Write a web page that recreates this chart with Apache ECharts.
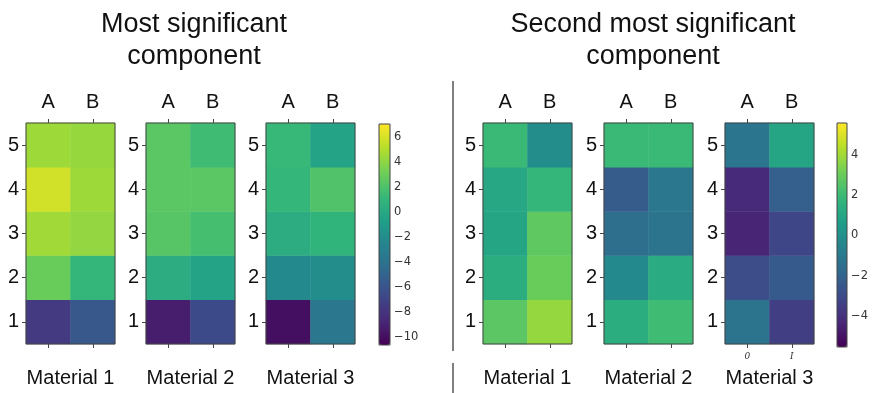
<!DOCTYPE html>
<html><head><meta charset="utf-8">
<script src="https://cdn.jsdelivr.net/npm/echarts@6/dist/echarts.min.js"></script>
<style>html,body{margin:0;padding:0;background:#fff}#c{width:875px;height:393px}</style>
</head><body><div id="c"></div>
<script>
// ---------- data ----------
const columns = ['A', 'B'];
const rows = ['1', '2', '3', '4', '5'];          // bottom to top
const materials = ['Material 1', 'Material 2', 'Material 3'];
const componentTitles = ['Most significant\ncomponent', 'Second most significant\ncomponent'];
// values [A, B] for rows 1..5
const comp1Mat1 = [[-7.6, -5.8], [2.9, 1.0], [4.5, 4.1], [5.8, 4.4], [4.4, 4.2]];
const comp1Mat2 = [[-9.2, -6.6], [0.3, -0.4], [2.3, 1.7], [2.4, 2.4], [2.4, 1.5]];
const comp1Mat3 = [[-9.9, -3.6], [-2.3, -2.0], [0.3, 0.8], [1.0, 2.1], [1.2, -0.4]];
const comp2Mat1 = [[2.7, 3.8], [1.4, 3.0], [1.0, 2.8], [1.1, 1.8], [2.0, -0.1]];
const comp2Mat2 = [[1.4, 2.1], [-0.3, 1.3], [-1.5, -1.3], [-2.3, -1.1], [2.0, 2.0]];
const comp2Mat3 = [[-1.3, -3.5], [-2.9, -2.4], [-4.4, -3.2], [-4.2, -2.2], [-1.2, 1.0]];
const comp1Range = [-10.6, 7.0];
const comp2Range = [-5.55, 5.6];
const comp1Ticks = [-10, -8, -6, -4, -2, 0, 2, 4, 6];
const comp2Ticks = [-4, -2, 0, 2, 4];
const mat3Comp2BottomTicks = ['0', 'I'];

// ---------- style ----------
const viridis = ['#440154', '#482878', '#3e4989', '#31688e', '#26828e', '#1f9e89', '#35b779', '#6ece58', '#b5de2b', '#fde725'];
const FONT = 'Liberation Sans, Arial, sans-serif';
const panels = [
  { left: 26, data: comp1Mat1, comp: 0, mat: 0 },
  { left: 146, data: comp1Mat2, comp: 0, mat: 1 },
  { left: 266, data: comp1Mat3, comp: 0, mat: 2 },
  { left: 483, data: comp2Mat1, comp: 1, mat: 0 },
  { left: 604, data: comp2Mat2, comp: 1, mat: 1 },
  { left: 725, data: comp2Mat3, comp: 1, mat: 2 }
];
const PT = 123, PW = 89, PH = 221;
const bars = [
  { left: 379, top: 124, width: 11, height: 221, range: comp1Range, ticks: comp1Ticks },
  { left: 837, top: 123, width: 10, height: 224, range: comp2Range, ticks: comp2Ticks }
];

const grid = [], xAxis = [], yAxis = [], series = [];
panels.forEach((p, i) => {
  grid.push({ left: p.left, top: PT, width: PW, height: PH, show: true, z: 5,
    backgroundColor: 'transparent', borderColor: '#444', borderWidth: 1 });
  xAxis.push({ type: 'category', data: columns, gridIndex: i, position: 'top',
    axisLine: { show: false },
    axisTick: { show: true, alignWithLabel: true, length: 4, lineStyle: { color: '#444' } },
    axisLabel: { fontSize: 20, color: '#111', fontFamily: FONT, margin: 11 },
    splitLine: { show: false } });
  const isOdd = (i === 5);
  xAxis.push({ type: 'category', data: isOdd ? mat3Comp2BottomTicks : columns, gridIndex: i, position: 'bottom',
    axisLine: { show: false },
    axisTick: { show: true, alignWithLabel: true, length: 4, lineStyle: { color: '#444' } },
    axisLabel: { show: isOdd, fontSize: 9, color: '#333', fontFamily: 'DejaVu Serif', fontStyle: 'italic', margin: 8 },
    name: materials[p.mat], nameLocation: 'middle', nameGap: 24,
    nameTextStyle: { fontSize: 20, color: '#111', fontFamily: FONT },
    splitLine: { show: false } });
  yAxis.push({ type: 'category', data: rows, gridIndex: i,
    axisLine: { show: false },
    axisTick: { show: true, alignWithLabel: true, length: 4, lineStyle: { color: '#444' } },
    axisLabel: { fontSize: 20, color: '#111', fontFamily: FONT, margin: 7 },
    splitLine: { show: false } });
  const d = [];
  p.data.forEach((r, ri) => r.forEach((v, ci) => d.push([ci, ri, v])));
  series.push({ type: 'heatmap', xAxisIndex: 2 * i, yAxisIndex: i, data: d,
    itemStyle: { borderWidth: 0 }, emphasis: { disabled: true }, silent: true });
});
bars.forEach((b, k) => {
  const gi = 6 + k;
  grid.push({ left: b.left, top: b.top, width: b.width, height: b.height, show: true, z: 10,
    backgroundColor: 'transparent', borderColor: '#444', borderWidth: 1 });
  xAxis.push({ type: 'value', gridIndex: gi, show: false });
  yAxis.push({ type: 'value', gridIndex: gi, position: 'right', min: b.range[0], max: b.range[1],
    axisLine: { show: false }, splitLine: { show: false },
    axisTick: { show: true, length: 3, customValues: b.ticks, lineStyle: { color: '#444' } },
    axisLabel: { show: true, customValues: b.ticks, fontSize: 11.5, color: '#333', fontFamily: 'DejaVu Sans', margin: 4,
      formatter: v => String(v).replace('-', '\u2212') } });
});

const visualMap = bars.map((b, k) => ({
  type: 'continuous', min: b.range[0], max: b.range[1], seriesIndex: k === 0 ? [0, 1, 2] : [3, 4, 5],
  dimension: 2, left: b.left, top: b.top, itemWidth: b.width, itemHeight: b.height,
  padding: 0, calculable: false, realtime: false, hoverLink: false, text: null, showLabel: false,
  inRange: { color: viridis }
}));

const graphic = [
  { type: 'text', x: 194, y: 9, style: { text: componentTitles[0], fontSize: 27, fontFamily: FONT, fill: '#111', align: 'center', lineHeight: 32 } },
  { type: 'text', x: 653, y: 9, style: { text: componentTitles[1], fontSize: 27, fontFamily: FONT, fill: '#111', align: 'center', lineHeight: 32 } },
  { type: 'line', shape: { x1: 453, y1: 81, x2: 453, y2: 351 }, style: { stroke: '#555', lineWidth: 1.5 } },
  { type: 'line', shape: { x1: 453, y1: 363, x2: 453, y2: 393 }, style: { stroke: '#555', lineWidth: 1.5 } }
];

const chart = echarts.init(document.getElementById('c'), null, { renderer: 'canvas' });
chart.setOption({ animation: false, backgroundColor: '#fff', grid, xAxis, yAxis, series, visualMap, graphic });
</script></body></html>
